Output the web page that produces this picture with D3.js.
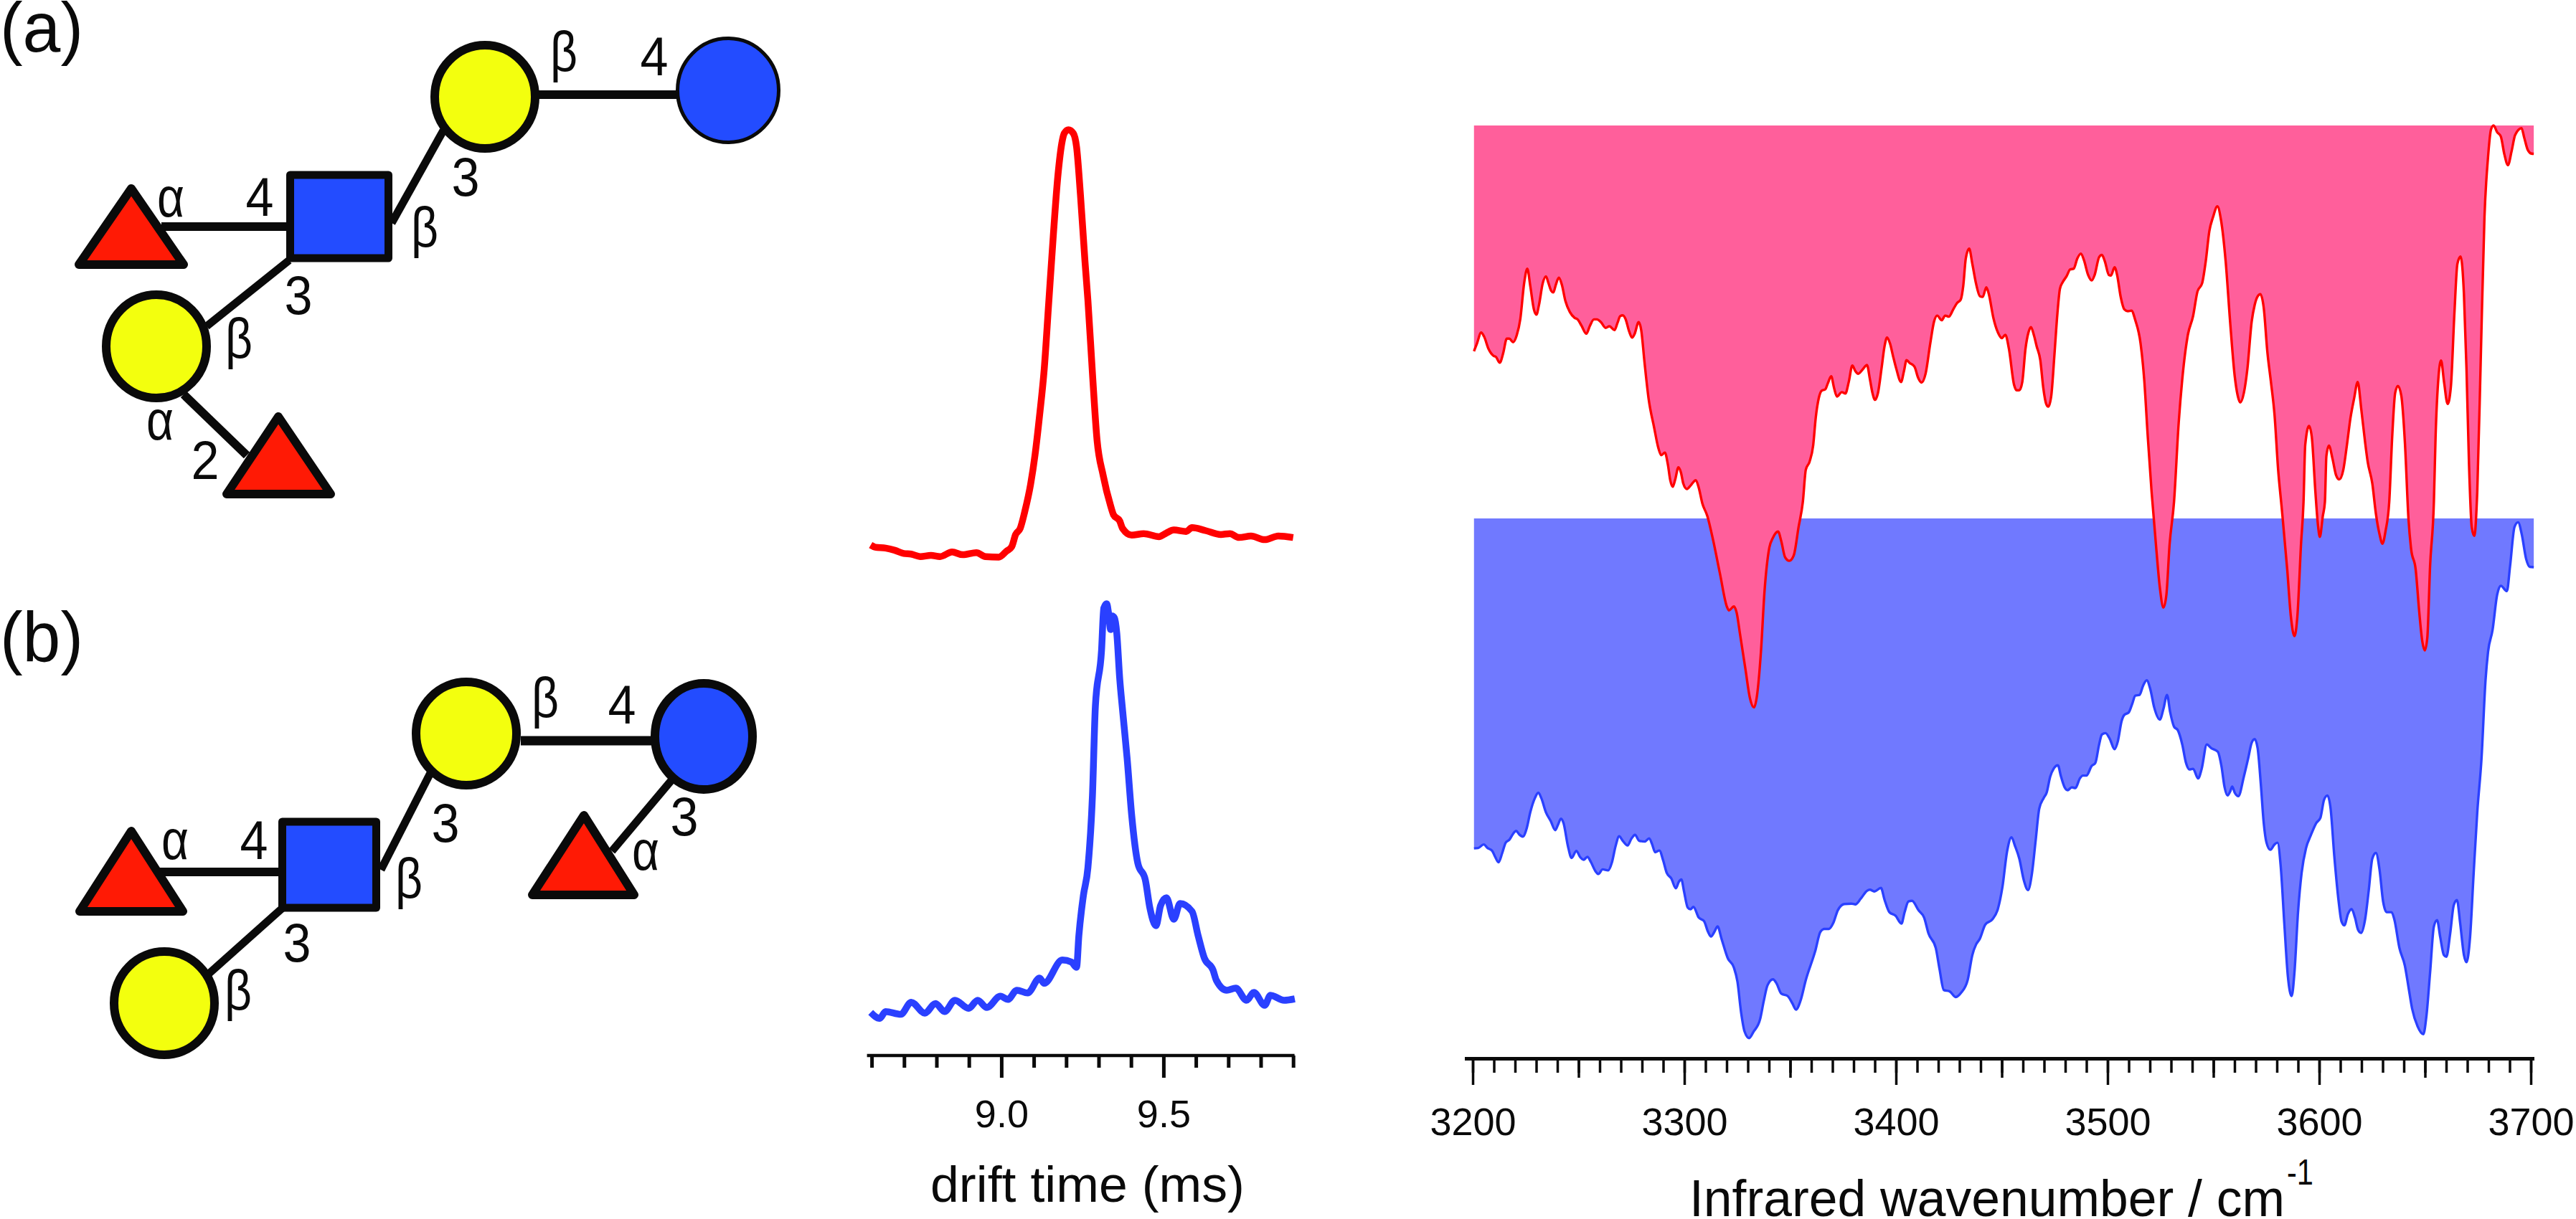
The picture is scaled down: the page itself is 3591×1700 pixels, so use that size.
<!DOCTYPE html>
<html><head><meta charset="utf-8">
<script src="https://cdn.jsdelivr.net/npm/d3@7"></script>
<style>html,body{margin:0;padding:0;background:#fff}svg{display:block}text{font-family:"Liberation Sans",Arial,sans-serif;fill:#0a0a0a}</style>
</head><body><svg id="c" width="3591" height="1700"></svg>
<script>
// IR spectrum, conformer A: wavenumber (cm-1), depletion (arb. units)
const redWn=[3200.6,3202,3204,3205.4,3207.5,3209.9,3210.9,3212.8,3214.4,3216.1,3217.3,3219.1,3220.8,3222.5,3224.3,3225.8,3227.2,3228.9,3230.1,3231.3,3233.1,3234.6,3235.8,3237.1,3238.1,3239.3,3240.7,3242.1,3243.8,3245.9,3248.1,3249.7,3251.4,3253.7,3255.4,3257.3,3258.7,3260.6,3262.8,3264.6,3267,3268.4,3269.7,3270.9,3272.2,3273.9,3275.3,3276.5,3278.4,3279.6,3281.2,3283.1,3285.7,3287.7,3289.1,3290.8,3292.2,3293.4,3294.5,3295.7,3297.2,3298.4,3299.5,3301.2,3302.9,3305.4,3306.8,3308.5,3310.9,3313.7,3316.8,3320.2,3321.1,3323.4,3324.7,3326.3,3328.9,3331,3332.9,3334.4,3336.2,3337.9,3340.1,3341.9,3344.3,3345.8,3347.6,3349.6,3351.7,3354,3356,3357.4,3359.2,3360.9,3362.1,3363.5,3364.9,3366.6,3367.8,3369.4,3370.7,3372.1,3374.4,3376.1,3377.7,3379.4,3380.8,3382.2,3384.2,3386.3,3387.7,3388.9,3390.1,3391.5,3393.2,3394.6,3395.8,3397.2,3398.6,3400.1,3402.4,3403.8,3405,3406.4,3408.8,3410.5,3412.1,3414,3416.2,3418,3419.5,3421.6,3423.3,3425,3427.1,3428.9,3430.6,3431.8,3433,3434.6,3436.1,3437.8,3439.7,3441,3442.7,3443.9,3446,3448.2,3450,3451.7,3453.4,3455.8,3457,3458.3,3459.7,3461.2,3462.6,3463.8,3465.2,3466.5,3468.2,3469.6,3471,3472,3473.4,3474.9,3476.3,3477.5,3478.9,3480.6,3482.3,3484,3485.7,3487.4,3488.8,3490.8,3492.5,3493.9,3496,3497.3,3498.7,3500.6,3501.6,3503.3,3504.5,3506.2,3507.9,3509.6,3511.3,3513.1,3515.6,3517.3,3519,3520.8,3523,3524.7,3526.4,3527.8,3529.3,3531.4,3533.6,3535.3,3537.9,3540.4,3542.5,3544.7,3546.4,3548.1,3549.8,3551.9,3553.6,3555.8,3557.9,3560.1,3561.5,3562.7,3564.4,3566.1,3568.1,3569.5,3570.9,3572.2,3573.8,3575.5,3577.2,3578.9,3580.6,3582.3,3584.9,3586.6,3588.3,3589.7,3591.4,3592.6,3593.4,3595.2,3596.5,3598.2,3599.4,3600.3,3601.7,3602.7,3603.4,3604.6,3606.3,3608,3609.5,3611.4,3613.1,3614.8,3616.5,3618.2,3619.9,3621.7,3622.9,3625.1,3626.8,3628.5,3629.9,3631.4,3633.1,3634.5,3635.9,3637.2,3638.8,3640.5,3642.2,3643.4,3645.6,3647.3,3648.7,3649.9,3651.1,3652.4,3654.2,3655,3656.4,3657.6,3659,3660.7,3662.2,3663.9,3665.3,3666.8,3668.4,3669.6,3670.8,3672.1,3673.3,3674.7,3676.4,3678.1,3679.8,3681.2,3682.4,3684.1,3685.8,3687.5,3689.2,3690.9,3692.6,3695.6,3696.9,3698.6,3700.3,3701.4];
const redDep=[314.8,304.1,288.8,294.6,311.8,321.3,322.5,330.9,317.5,297.3,297.3,302.2,292.6,269.7,219.9,199.6,223.8,256.3,263.9,250.5,219.9,210.4,219.9,230.6,232.9,221.8,212.3,221.8,244.8,260.1,268.1,270.8,279.2,290.3,279.2,270.4,270.4,274.3,282.3,280,285.4,275.4,265.9,264.7,269.7,286.9,295.7,290.7,274.3,285,330.9,380.7,420.8,449.5,459.9,456.1,472.5,495.5,503.9,493.6,476.7,484,499.3,507,502.4,494.7,505,527,544.9,579.7,624.5,671.8,676.2,670.8,679.2,709.1,758.8,798.6,811.6,793.7,734,649.4,589.7,574.8,566.3,579.7,602.1,607.1,599.6,559.8,525,480.2,468.7,445.7,407.5,380.7,369.9,368,359.6,349.7,365.4,378,371.9,373.8,357.7,334.7,342.4,346.2,340.5,334,353.9,373,382.6,373,338.6,308,295.7,304.1,321.3,338.6,357.7,342.4,327.1,330.9,336.7,352,358.5,346.2,304.1,273.5,265.1,271.6,265.1,266.6,256.3,247.5,242.9,223.8,185.5,171.7,193.1,219.9,238.3,239.1,225.7,235.2,267.8,288.8,296.5,291.9,311.8,361.5,369.2,369.2,357.7,311.8,288.8,281.2,292.6,308,327.1,365.4,388.3,392.1,376.8,319.4,262,227.6,218,210.4,200.8,199.6,185.5,178.6,187.4,208.4,216.1,208.4,183.6,180.5,189.3,208.4,209.2,197.7,208.4,239.1,256.3,259,258.2,271.6,304.1,353.9,434.2,510.8,589.7,644.4,672.3,654.4,584.7,525,415.1,353.9,292.6,265.9,231.4,219.9,189.3,147.2,128.1,112.8,131.9,189.3,273.5,350,376.8,386.4,373,338.6,273.5,250.5,238.3,235.2,254.4,315.6,357.7,403.6,480.2,533.7,619.5,684.2,712.1,684.2,584.7,525,445.7,418.9,434.2,510.8,556.7,573.8,544.9,525,461,446.5,464.9,487.8,493.6,480.2,445.7,407.5,380.7,357.7,396,441.9,468.7,499.3,541.4,569.8,583.2,564.8,525,434.2,373,363.1,376.8,441.9,549.1,589.7,619.5,679.2,719,732,714.1,614.6,525,434.2,350,327.8,357.7,388.3,365.4,262,193.1,182.8,235.2,338.6,472.5,560.5,572.3,510.8,319.4,128.1,43.9,5.6,0,9.4,15.2,40.1,55.4,36.2,13.3,3.7,17.1,34.3,39.3,39.5];
// IR spectrum, conformer B
const blueWn=[3200.6,3202.6,3205.2,3207,3209.2,3210.6,3212.2,3213.9,3215.6,3217.3,3219.1,3220.5,3222,3223.7,3225.5,3227.2,3229.4,3231,3232.4,3234.6,3236.9,3239,3240.3,3241.7,3242.9,3245,3246.7,3249,3250.7,3252.4,3254.2,3255.9,3258,3259.4,3261.4,3264,3265.8,3267.5,3269.2,3270.9,3273.2,3274.9,3276.7,3278.7,3281.3,3283.4,3284.8,3286.2,3288.2,3290,3291.7,3293.8,3296,3297.4,3298.6,3299.8,3301.6,3302.9,3304.3,3306.8,3309.3,3311.2,3312.6,3314.2,3315.7,3317.6,3320.6,3323.4,3325.1,3326.8,3328.5,3330.6,3332.7,3335.8,3337.5,3339.3,3341.9,3343.6,3345.8,3348.8,3351,3352.8,3354.8,3357.4,3361.8,3364.3,3366.1,3368.3,3370.4,3372.5,3375.6,3379,3380.8,3383.4,3386.3,3387.7,3389.8,3392.9,3394.6,3396.9,3399.8,3402.6,3404.1,3405.9,3407.6,3410.7,3413.3,3415.4,3418.8,3420.6,3422.6,3425.4,3428.3,3430.9,3433.9,3436.1,3437.9,3439.6,3442.2,3445.6,3448.2,3450.3,3452.5,3454.6,3456.3,3458.3,3460.4,3462.4,3464.3,3466,3467.7,3469.8,3471.2,3472.9,3474.6,3476.5,3478,3479.7,3481.1,3483.1,3484.8,3486.9,3488.3,3490,3492.5,3494.2,3496,3497.3,3499,3501.1,3503.3,3504.9,3506.6,3507.9,3510,3511.7,3513.1,3515.1,3516.8,3518.5,3520.2,3522,3524.7,3526.4,3528.1,3529.6,3531.4,3533.2,3535.3,3537,3538.7,3540.4,3542.8,3544.4,3546.9,3549,3552.1,3553.8,3555.3,3556.7,3557.9,3558.9,3560.1,3561.8,3564.4,3566.4,3568.1,3569.5,3570.9,3572.4,3573.8,3575.1,3576.9,3578.9,3580.3,3581.8,3583.5,3585.2,3587,3588.3,3590,3591.7,3593.8,3596,3598.6,3600.6,3602.3,3603.9,3605.4,3607.1,3609.2,3610.5,3611.9,3613.6,3615.3,3616.9,3618.4,3619.8,3621.7,3623.4,3625.1,3626.8,3628.5,3630.2,3631.9,3634.2,3635.5,3637.9,3640.5,3642.2,3643.9,3646.5,3649.2,3650.7,3652.4,3654.2,3655.7,3657.2,3658.9,3660.1,3661.9,3663.6,3665.1,3666.6,3668.4,3669.6,3671.3,3673,3674.7,3676.7,3678.6,3679.8,3681.9,3684.1,3685.8,3688.7,3690.2,3692.3,3694,3695.7,3697.8,3699.5,3701.4];
const blueDep=[460.1,459.6,454.6,459.6,463.6,472,479.5,467,452.1,448.1,439.7,435.7,440.7,443.7,432.2,409.8,389.9,382.5,389.9,409.8,422.3,434.7,427.2,418.8,424.8,457.1,473.5,463.6,472,476,472,479.5,491.9,495.9,489.4,490.9,479.5,457.1,443.2,449.6,456.1,447.1,441.2,449.6,450.6,446.1,454.6,465.5,463.1,477,494.4,501.9,515.8,506.8,503.4,519.3,542.7,545.1,541.7,556.6,561.6,576.5,583,576.5,569,586.4,613.8,626.2,646.1,688.4,715.8,724.7,715.8,698.4,673.5,651.1,642.7,648.6,662.6,666,676,685,673.5,643.7,603.9,576.5,572.5,572.5,564.1,546.6,537.7,537.2,538.2,530.2,519.3,517.8,520.3,515.3,531.7,549.1,554.1,565,549.1,534.2,533.2,546.6,556.6,579,598.9,628.7,657.6,659.6,667.5,661.1,643.7,608.8,593.9,586.4,566.5,559.1,544.2,514.3,464.6,444.7,457.1,474.5,504.4,518.3,494.4,449.6,404.9,389.9,382.5,360.1,348.6,344.2,360.1,375,379,375,376,362.6,358.6,358.6,345.2,341.2,315.3,301.4,299.4,307.8,321.8,310.3,283,274,270.5,258.1,247.1,246.1,233.2,225.8,238.2,263.1,280.5,265.6,246.1,270.5,290.4,295.4,315.3,340.2,350.1,349.1,362.6,350.1,315.3,320.3,325.3,345.2,375,386.4,381,374,382.5,387.4,360.1,335.2,312.8,307.8,320.3,370,424.8,452.1,462.1,454.6,452.1,484.5,564.1,638.7,666,633.7,549.1,494.4,459.6,442.2,424.8,417.3,392.4,386.4,404.9,469.5,534.2,561.6,567.5,551.6,544.7,556.6,574,578,559.1,519.3,474.5,466.5,489.4,534.2,549.1,549.1,559.1,598.9,623.8,653.6,683.5,708.3,719.3,693.4,633.7,569,560.1,584,608.8,611.3,579,539.2,532.2,564.1,608.8,618.8,584,494.4,409.8,335.2,225.8,186,156.1,106.4,93.9,101.4,66.6,11.8,5.4,21.8,56.6,67.5,68];
// Arrival time distributions: drift time (ms), intensity (arb. units)
const redT=[8.597,8.611,8.643,8.671,8.699,8.722,8.75,8.783,8.811,8.848,8.881,8.923,8.951,8.992,9.016,9.032,9.044,9.058,9.072,9.09,9.104,9.118,9.132,9.146,9.16,9.174,9.188,9.194,9.207,9.222,9.232,9.244,9.258,9.267,9.281,9.295,9.314,9.337,9.346,9.365,9.374,9.402,9.439,9.486,9.509,9.532,9.57,9.588,9.63,9.677,9.705,9.733,9.77,9.812,9.854,9.9];
const redI=[16.8,13.9,12.6,9.6,5.1,4.2,0.8,2.5,0.8,7.2,3.4,6.3,0.8,0,8.4,14.7,31.6,40,63.1,101,143,198,261,354,447,530,581,591,596,591,572,505,412,358,256,164,114,71.6,59,50.5,40,30.7,32.8,28.6,33.7,37.9,35.8,41.2,37,31.6,32.8,27.4,29.5,24.4,29.5,27.4];
const blueT=[8.597,8.625,8.643,8.69,8.722,8.764,8.797,8.825,8.857,8.899,8.927,8.955,8.997,9.02,9.048,9.081,9.118,9.132,9.188,9.216,9.232,9.239,9.253,9.267,9.281,9.29,9.309,9.316,9.325,9.33,9.337,9.342,9.349,9.356,9.365,9.374,9.388,9.402,9.421,9.444,9.458,9.477,9.491,9.509,9.532,9.551,9.588,9.607,9.626,9.653,9.663,9.695,9.723,9.756,9.779,9.812,9.83,9.872,9.905];
const blueI=[11.2,2.8,12.3,8.4,25.3,10.1,23.6,12.3,28.1,16.8,28.1,17.9,33.7,29.2,42.1,38.2,59,51.7,84.2,81.4,74.1,117.8,174,213,314,438,516,575,581,570,545,564,561,540,477,432,365,286,219,196,157,132,160,171,141,163,152,118,87,70,56,42,45,28,39,21,35,28,30];
const wnMajor=[3200,3300,3400,3500,3600,3700];
const wnMid=[3250,3350,3450,3550,3650];
const wnMinor=d3.range(3200,3701,10);
const driftMajor=[9.0,9.5];
const driftMinor=[8.6,8.7,8.8,8.9,9.1,9.2,9.3,9.4,9.6,9.7,9.8,9.9];

const svg=d3.select('#c');
const INK='#0a0a0a',YEL='#f3ff0e',BLU='#234cff',TRI='#ff1a05';

// ---------- IR panel ----------
const x=d3.scaleLinear().domain([3200,3700]).range([2053,3528]);
const yRed=d3.scaleLinear().domain([0,1000]).range([175,1175]);
const yBlue=d3.scaleLinear().domain([0,1000]).range([723,1723]);
function spectrum(wn,dep,y,fill,stroke,baseline){
  const pts=wn.map((w,i)=>[w,dep[i]]);
  svg.append('path').datum(pts).attr('fill',fill)
    .attr('d',d3.area().x(d=>x(d[0])).y0(baseline).y1(d=>y(d[1])).curve(d3.curveMonotoneX));
  svg.append('path').datum(pts).attr('fill','none').attr('stroke',stroke).attr('stroke-width',3.4)
    .attr('d',d3.line().x(d=>x(d[0])).y(d=>y(d[1])).curve(d3.curveMonotoneX));
}
spectrum(blueWn,blueDep,yBlue,'#7079ff','#2a40ff',yBlue(0));
spectrum(redWn,redDep,yRed,'#ff5f9b','#ff0000',yRed(0));

function axis(g,scale,values,size,w,fmt){
  const a=d3.axisBottom(scale).tickValues(values).tickSize(size).tickSizeOuter(0);
  if(fmt)a.tickFormat(fmt);else a.tickFormat('');
  const s=svg.append('g').attr('transform',g).call(a);
  s.select('.domain').remove();
  s.selectAll('line').attr('stroke',INK).attr('stroke-width',w);
  return s;
}
const irAxisY='translate(0,1476)';
axis(irAxisY,x,wnMinor,20,3.5);
axis(irAxisY,x,wnMid,27,3.5);
axis(irAxisY,x,wnMajor,37,3.5,d3.format('d')).selectAll('text')
  .attr('y',107).attr('dy',0).style('font-size','54px').style('font-family','"Liberation Sans"').attr('fill',INK);
svg.append('line').attr('x1',x(3200)-11).attr('x2',x(3700)+5).attr('y1',1476.5).attr('y2',1476.5).attr('stroke',INK).attr('stroke-width',5);
svg.append('text').attr('x',2355).attr('y',1696).attr('font-size',72).attr('textLength',830).attr('lengthAdjust','spacingAndGlyphs').text('Infrared wavenumber / cm');
svg.append('text').attr('x',3188).attr('y',1652).attr('font-size',50).attr('textLength',37).attr('lengthAdjust','spacingAndGlyphs').text('-1');

// ---------- drift panel ----------
const t=d3.scaleLinear().domain([9,9.5]).range([1395.9,1621.9]);
const iRed=d3.scaleLinear().domain([0,600]).range([777,177]);
const iBlue=d3.scaleLinear().domain([0,600]).range([1423,823]);
function atd(ts,is,y,col){
  svg.append('path').datum(ts.map((v,i)=>[v,is[i]])).attr('fill','none').attr('stroke',col).attr('stroke-width',9.5)
    .attr('stroke-linejoin','round').attr('d',d3.line().x(d=>t(d[0])).y(d=>y(d[1])).curve(d3.curveMonotoneX));
}
atd(redT,redI,iRed,'#ff0000');
atd(blueT,blueI,iBlue,'#2a40ff');
const drAxisY='translate(0,1472)';
axis(drAxisY,t,driftMinor,17,5);
axis(drAxisY,t,driftMajor,31,5,d3.format('.1f')).selectAll('text')
  .attr('y',100).attr('dy',0).style('font-size','54px').style('font-family','"Liberation Sans"').attr('fill',INK);
svg.append('line').attr('x1',1208.6).attr('x2',1804.6).attr('y1',1472).attr('y2',1472).attr('stroke',INK).attr('stroke-width',4.5);
svg.append('text').attr('x',1516).attr('y',1676).attr('text-anchor','middle').attr('font-size',70).attr('textLength',438).attr('lengthAdjust','spacingAndGlyphs').text('drift time (ms)');

// ---------- glycan schematics ----------
const link=(a,b,c,d,w=11)=>svg.append('line').attr('x1',a).attr('y1',b).attr('x2',c).attr('y2',d).attr('stroke',INK).attr('stroke-width',w);
const ell=(cx,cy,rx,ry,f,w=12)=>svg.append('ellipse').attr('cx',cx).attr('cy',cy).attr('rx',rx-w/2).attr('ry',ry-w/2).attr('fill',f).attr('stroke',INK).attr('stroke-width',w);
const sq=(x0,y0,x1,y1)=>svg.append('rect').attr('x',x0).attr('y',y0).attr('width',x1-x0).attr('height',y1-y0).attr('fill',BLU).attr('stroke',INK).attr('stroke-width',11).attr('stroke-linejoin','round');
const tri=(ax,ay,bx0,bx1,by)=>svg.append('path').attr('d',`M${ax},${ay}L${bx1},${by}L${bx0},${by}Z`).attr('fill',TRI).attr('stroke',INK).attr('stroke-width',12).attr('stroke-linejoin','round');
const lab=(s,cx,base,size=76)=>svg.append('text').attr('x',cx).attr('y',base).attr('text-anchor','middle').attr('font-size',size).attr('textLength',s==='β'||s==='α'?38:39).attr('lengthAdjust','spacingAndGlyphs').text(s);
const tag=(s,base)=>svg.append('text').attr('x',0).attr('y',base).attr('font-size',98).attr('textLength',116).attr('lengthAdjust','spacingAndGlyphs').text(s);

// (a)
tag('(a)',72);
link(740,132,945,132,12);link(546,311,618,182);link(403,363,288,455);link(225,316,399,316,12);link(256,550,344,635,12);
ell(676,135,76,78,YEL);ell(1015,126,73,75,BLU,5);
sq(404.5,244,541.5,360);
ell(218,483,76,78,YEL);
tri(183,263,110,256,369);tri(388,581,316,461,689);
lab('β',786,99,78);lab('4',912,105);lab('3',649,273);lab('β',592,344,78);lab('α',238,302,78);lab('4',362,301);lab('3',416,438);lab('β',333,499,78);lab('α',223,613,78);lab('2',286,668);

// (b)
tag('(b)',922);
link(726,1033,909,1033,13);link(531,1213,600,1078);link(393,1267,291,1358);link(223,1216,388,1216,12);link(937,1087,853,1187,11);
ell(650,1023,76,78,YEL);ell(981,1027,74,80,BLU);
sq(393.5,1146,524.5,1266);
ell(229,1399,76,78,YEL);
tri(183,1159,111,255,1271);tri(814,1137,742,884,1248);
lab('β',760,1000,78);lab('4',867,1009);lab('3',621,1174);lab('β',570,1252,78);lab('α',244,1198,78);lab('4',354,1198);lab('3',414,1341);lab('β',332,1408,78);lab('3',954,1165);lab('α',900,1213,78);
</script></body></html>
